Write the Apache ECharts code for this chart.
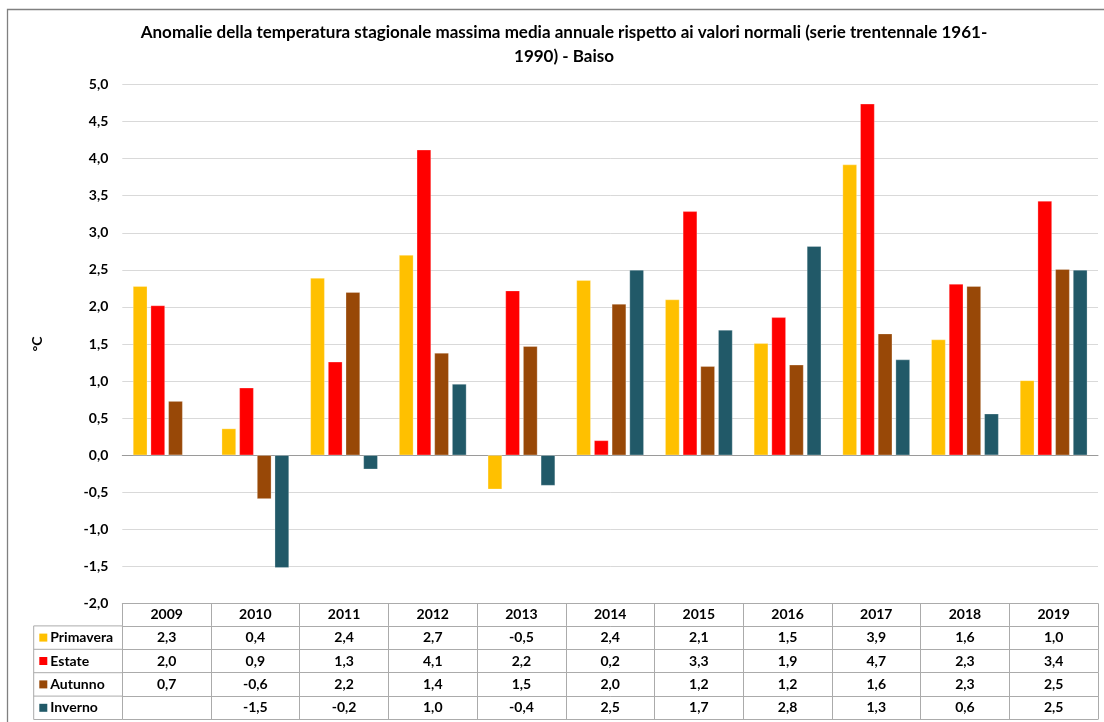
<!DOCTYPE html>
<html>
<head>
<meta charset="utf-8">
<title>Anomalie temperatura stagionale massima - Baiso</title>
<script src="https://cdn.jsdelivr.net/npm/echarts@6/dist/echarts.min.js"></script>
<style>
  html, body { margin: 0; padding: 0; background: #fff; }
  #chart { width: 1104px; height: 722px; }
</style>
</head>
<body>
<div id="chart"></div>
<script>
// dati (anomalie in °C)
const years = ["2009", "2010", "2011", "2012", "2013", "2014", "2015", "2016", "2017", "2018", "2019"];
const seasons = ["Primavera", "Estate", "Autunno", "Inverno"];
const primavera = [2.28, 0.36, 2.39, 2.70, -0.46, 2.36, 2.10, 1.51, 3.92, 1.56, 1.01];
const estate = [2.02, 0.91, 1.26, 4.12, 2.22, 0.20, 3.29, 1.86, 4.74, 2.31, 3.43];
const autunno = [0.73, -0.59, 2.20, 1.38, 1.47, 2.04, 1.20, 1.22, 1.64, 2.28, 2.51];
const inverno = [null, -1.52, -0.19, 0.96, -0.41, 2.50, 1.69, 2.82, 1.29, 0.56, 2.50];
const yTicks = { min: -2, max: 5, step: 0.5 };

const seasonData = [primavera, estate, autunno, inverno];
const colors = ["#FFC000", "#FF0000", "#984807", "#215968"];

// layout (px)
const FONT = 'Lato, "Open Sans", sans-serif';
const GRID_LEFT = 122.3, GRID_RIGHT = 6, GRID_TOP = 84.5, TABLE_TOP = 603.5;
const HEADER_H = 22.4, ROW_H = 23.4, COL_LEFT = 33.7;
const BORDER = "#ababab";

const fmt = (v) => (v == null ? "" : (Math.round(v * 10) / 10).toFixed(1).replace(".", ","));

const cellText = { fontFamily: FONT, fontWeight: "bold", fontSize: 14, color: "#000" };

// asse categoria per ogni riga della tabella dati
const tableAxis = (offset, height, formatter) => ({
  type: "category",
  data: years,
  position: "bottom",
  offset: offset,
  axisLine: { onZero: false, lineStyle: { color: BORDER, width: 1 } },
  axisTick: { show: true, length: height, lineStyle: { color: BORDER, width: 1 } },
  axisLabel: Object.assign({ interval: 0, margin: height / 2, verticalAlign: "middle", formatter: formatter }, cellText),
  splitLine: { show: false },
});

const xAxes = [
  {
    type: "category",
    data: years,
    position: "bottom",
    axisLine: { onZero: true, lineStyle: { color: "#9a9a9a", width: 1 } },
    axisTick: { show: false },
    axisLabel: { show: false },
  },
  tableAxis(0, HEADER_H, (v) => v),
];
seasonData.forEach((arr, i) => {
  xAxes.push(tableAxis(HEADER_H + i * ROW_H, ROW_H, (v, idx) => fmt(arr[idx])));
});

const tableBottom = TABLE_TOP + HEADER_H + 4 * ROW_H;
const leftColLines = [];
for (let i = 0; i <= 4; i++) {
  const y = TABLE_TOP + HEADER_H + i * ROW_H;
  leftColLines.push({
    type: "line",
    silent: true,
    shape: { x1: COL_LEFT, y1: y, x2: GRID_LEFT, y2: y },
    style: { stroke: BORDER, lineWidth: 1 },
  });
}

const chart = echarts.init(document.getElementById("chart"));

chart.setOption({
  animation: false,
  backgroundColor: "#fff",
  textStyle: { fontFamily: FONT },
  grid: { left: GRID_LEFT, right: GRID_RIGHT, top: GRID_TOP, bottom: 722 - TABLE_TOP, containLabel: false },
  legend: {
    orient: "vertical",
    left: 39.3,
    top: TABLE_TOP + HEADER_H,
    padding: 0,
    itemGap: 0,
    itemWidth: 8,
    itemHeight: 8,
    icon: "rect",
    itemStyle: { borderWidth: 0 },
    textStyle: Object.assign({ lineHeight: ROW_H, padding: [0, 0, 0, -2] }, cellText),
    data: seasons,
  },
  xAxis: xAxes,
  yAxis: {
    type: "value",
    min: yTicks.min,
    max: yTicks.max,
    interval: yTicks.step,
    name: "°C",
    nameLocation: "middle",
    nameGap: 78,
    nameTextStyle: cellText,
    axisLine: { show: false },
    axisTick: { show: false },
    axisLabel: Object.assign({ margin: 14, formatter: (v) => v.toFixed(1).replace(".", ",") }, cellText),
    splitLine: { lineStyle: { color: "#d9d9d9", width: 1 } },
  },
  series: seasons.map((name, i) => ({
    name: name,
    type: "bar",
    xAxisIndex: 0,
    data: seasonData[i],
    barGap: "23%",
    barCategoryGap: "24%",
    itemStyle: { color: colors[i], borderColor: "rgba(255,255,255,0.45)", borderWidth: 0.6 },
  })),
  graphic: [
    {
      type: "rect",
      silent: true,
      z: -1,
      shape: { x: 7.5, y: 9.5, width: 1200, height: 800 },
      style: { fill: null, stroke: "#808080", lineWidth: 1.3 },
    },
    {
      type: "text",
      silent: true,
      x: 564,
      y: 21,
      style: {
        text: "Anomalie della temperatura stagionale massima media annuale rispetto ai valori normali (serie trentennale 1961-\n1990) - Baiso",
        fontFamily: FONT,
        fontWeight: "bold",
        fontSize: 17,
        lineHeight: 24,
        fill: "#000",
        align: "center",
        textAlign: "center",
        verticalAlign: "top",
        textVerticalAlign: "top",
      },
    },
    {
      type: "line",
      silent: true,
      shape: { x1: COL_LEFT, y1: TABLE_TOP + HEADER_H, x2: COL_LEFT, y2: tableBottom },
      style: { stroke: BORDER, lineWidth: 1 },
    },
    {
      type: "line",
      silent: true,
      shape: { x1: GRID_LEFT, y1: tableBottom, x2: 1104 - GRID_RIGHT, y2: tableBottom },
      style: { stroke: BORDER, lineWidth: 1 },
    },
  ].concat(leftColLines),
});

window.addEventListener("resize", () => {
  chart.resize();
});
</script>
</body>
</html>
